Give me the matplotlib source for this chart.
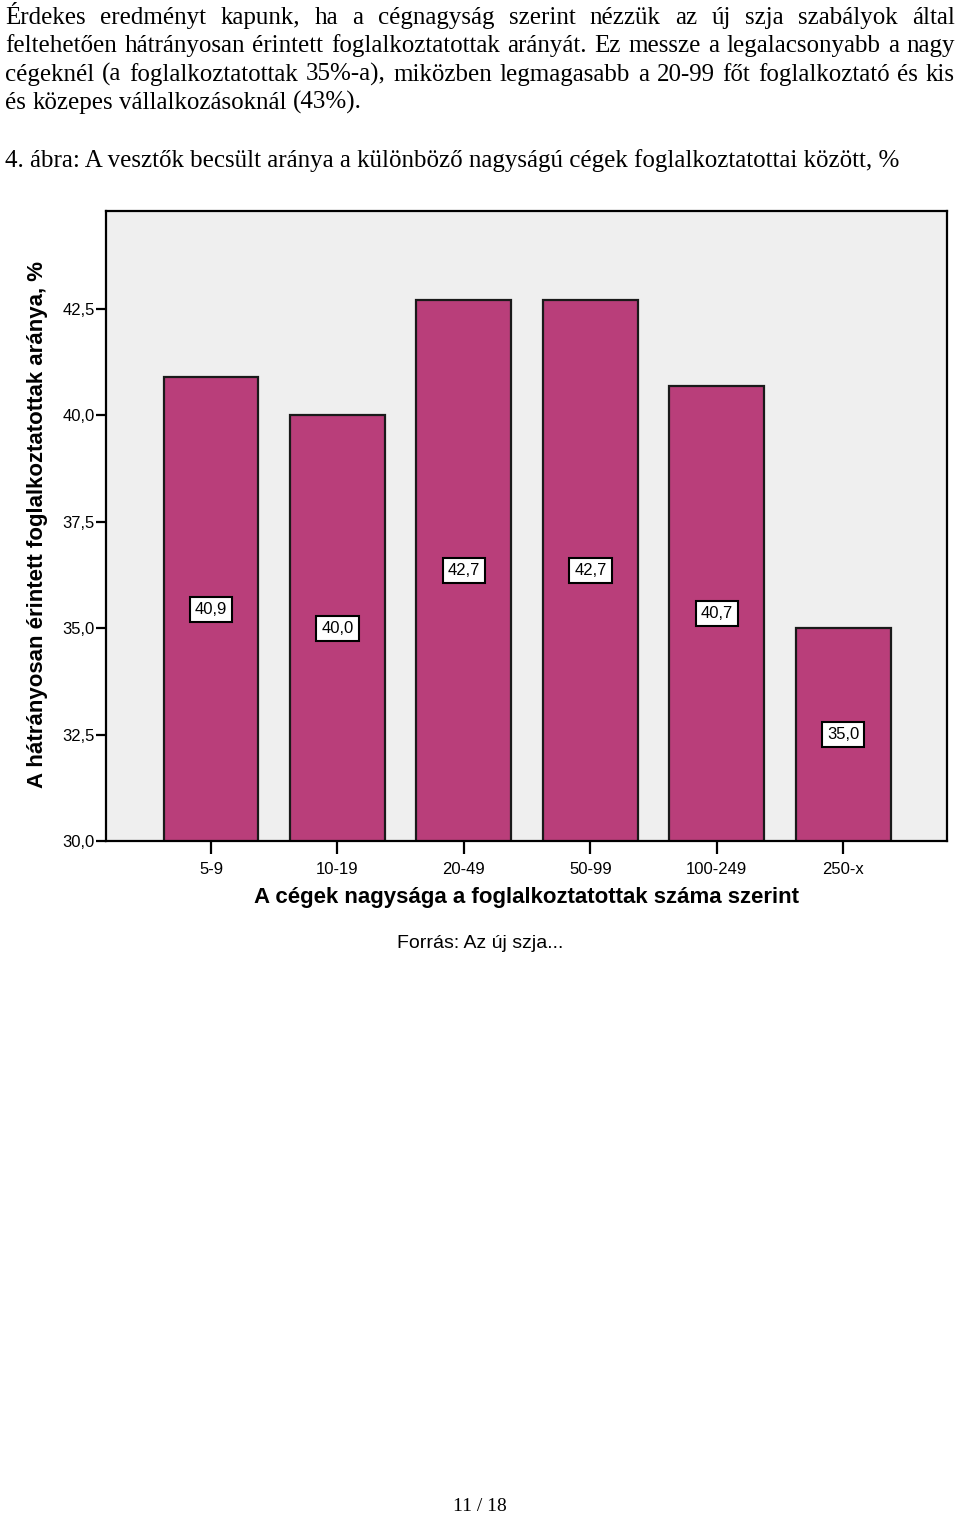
import matplotlib
matplotlib.use("Agg")
import matplotlib.pyplot as plt
import numpy as np

# chart data
categories = ['5-9', '10-19', '20-49', '50-99', '100-249', '250-x']
values = [40.9, 40.0, 42.7, 42.7, 40.7, 35.0]
y_ticks = [30.0, 32.5, 35.0, 37.5, 40.0, 42.5]

paragraph = [
    "Érdekes eredményt kapunk, ha a cégnagyság szerint nézzük az új szja szabályok által",
    "feltehetően hátrányosan érintett foglalkoztatottak arányát. Ez messze a legalacsonyabb a nagy",
    "cégeknél (a foglalkoztatottak 35%-a), miközben legmagasabb a 20-99 főt foglalkoztató és kis",
    "és közepes vállalkozásoknál (43%).",
]
caption = "4. ábra: A vesztők becsült aránya a különböző nagyságú cégek foglalkoztatottai között, %"
y_title = "A hátrányosan érintett foglalkoztatottak aránya, %"
x_title = "A cégek nagysága a foglalkoztatottak száma szerint"
source = "Forrás: Az új szja..."
page = "11 / 18"

W, H = 960, 1513
SERIF = "Liberation Serif"
SANS = "Liberation Sans"
BAR_COLOR = "#b93e7a"
BODY_SIZE = 18


def hu(v):
    return f"{v:.1f}".replace(".", ",")


fig = plt.figure(figsize=(W / 100, H / 100), dpi=100)
fig.patch.set_facecolor("white")
renderer = fig.canvas.get_renderer()

# --- body text (justified lines) ---
baselines = [24, 52, 81, 109]
for i, line in enumerate(paragraph):
    y = 1 - baselines[i] / H
    words = line.split(" ")
    texts = [fig.text(0, y, w, family=SERIF, fontsize=BODY_SIZE, va="baseline")
             for w in words]
    widths = [t.get_window_extent(renderer).width for t in texts]
    # natural space width
    sp = fig.text(0, y, "a a", family=SERIF, fontsize=BODY_SIZE)
    aa = fig.text(0, y, "aa", family=SERIF, fontsize=BODY_SIZE)
    space = sp.get_window_extent(renderer).width - aa.get_window_extent(renderer).width
    sp.remove()
    aa.remove()
    if i < len(paragraph) - 1:
        gap = (955 - 5 - sum(widths)) / (len(words) - 1)
        if gap < space * 0.6:
            # squeeze words if the line is too long
            scale = (955 - 5 - space * 0.6 * (len(words) - 1)) / sum(widths)
            for t in texts:
                t.set_fontsize(BODY_SIZE * scale)
            widths = [t.get_window_extent(renderer).width for t in texts]
            gap = (955 - 5 - sum(widths)) / (len(words) - 1)
    else:
        gap = space
    x = 5
    for t, w in zip(texts, widths):
        t.set_x(x / W)
        x += w + gap

fig.text(5 / W, 1 - 167 / H, caption, family=SERIF, fontsize=BODY_SIZE, va="baseline")
fig.text(480 / W, 1 - 1511 / H, page, family=SERIF, fontsize=14,
         va="baseline", ha="center")

# --- chart ---
ax = fig.add_axes([106 / W, 1 - 841 / H, 841 / W, 630 / H])
ax.set_facecolor("#efefef")
x = np.arange(len(categories))
ax.bar(x, values, width=0.75, color=BAR_COLOR, edgecolor="#1a1a1a",
       linewidth=1.6, zorder=2)

ax.set_ylim(30, 44.8)
ax.set_xlim(-0.83, 5.82)
ax.set_yticks(y_ticks)
ax.set_yticklabels([hu(t) for t in y_ticks], family=SANS, fontsize=12)
ax.set_xticks(x)
ax.set_xticklabels(categories, family=SANS, fontsize=12)
ax.tick_params(axis="y", length=7, width=1.6, pad=1)
ax.tick_params(axis="x", length=9, width=1.6, pad=6)
for s in ax.spines.values():
    s.set_linewidth(1.6)
    s.set_color("black")

for xi, v in zip(x, values):
    ax.text(xi, 30 + (v - 30) / 2, hu(v), ha="center", va="center",
            family=SANS, fontsize=12, zorder=3,
            bbox=dict(boxstyle="square,pad=0.3", fc="white", ec="black", lw=1.5))

fig.text(38 / W, 1 - 525 / H, y_title, family=SANS, fontsize=16,
         fontweight="bold", rotation=90, ha="center", va="center")
fig.text(527 / W, 1 - 898 / H, x_title, family=SANS, fontsize=16,
         fontweight="bold", ha="center", va="center")
fig.text(480 / W, 1 - 943 / H, source, family=SANS, fontsize=14,
         ha="center", va="center")

fig.savefig("out.png", dpi=100)
